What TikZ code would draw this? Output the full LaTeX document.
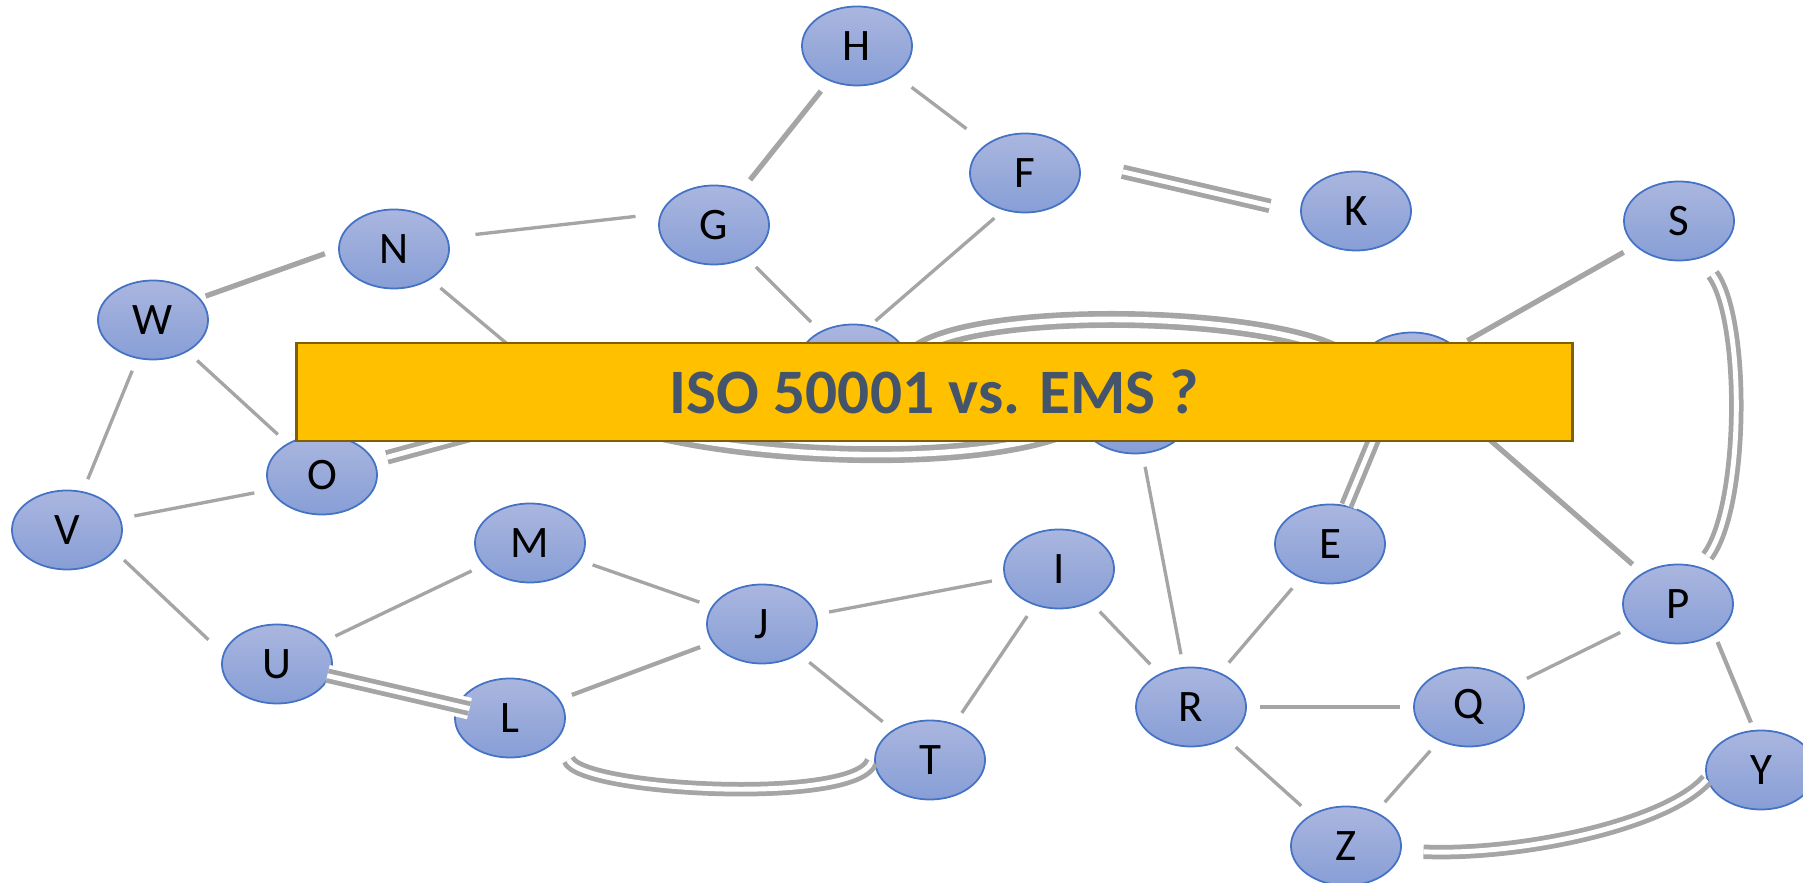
\documentclass[tikz,border=0pt]{standalone}
\usepackage{fontspec}
\setmainfont{Carlito}
\usetikzlibrary{shapes.geometric}
\definecolor{bubtop}{RGB}{170,182,223}
\definecolor{bubbot}{RGB}{135,158,214}
\definecolor{bubline}{RGB}{68,114,196}
\definecolor{lngray}{RGB}{165,165,165}
\definecolor{bangold}{RGB}{255,192,0}
\definecolor{banline}{RGB}{127,96,0}
\definecolor{bantext}{RGB}{68,84,106}
\begin{document}
\begin{tikzpicture}[x=0.01cm, y=-0.01cm,
  bub/.style={ellipse, draw=bubline, line width=0.5pt, top color=bubtop, bottom color=bubbot,
    minimum width=1.1cm, minimum height=0.79cm, inner sep=0pt, font=\fontsize{12.8}{14}\selectfont},
  ln/.style={draw=lngray, line width=0.95pt, shorten <=0.13cm, shorten >=0.13cm},
  lnmid/.style={line width=1.2pt},
  lnthick/.style={line width=1.5pt},
  dbl/.style={draw=lngray, line width=1.35pt, double=white, double distance=1.4pt,
    shorten <=0.13cm, shorten >=0.13cm},
  dblwide/.style={line width=1.6pt, double distance=1.6pt},
  halo/.style={preaction={draw=white, line width=6.2pt}},
  banner/.style={draw=banline, fill=bangold, line width=0.7pt, minimum width=12.75cm,
    minimum height=0.98cm, text=bantext, font=\fontsize{18}{21}\bfseries}]
\path[use as bounding box, clip] (0,0) rectangle (1803,883);
% nodes top
\node[bub] (h) at (857,46) {H};
\node[bub] (f) at (1025,173) {F};
\node[bub] (k) at (1356,211) {K};
\node[bub] (g) at (714,225) {G};
\node[bub] (n) at (394,249) {N};
\node[bub] (w) at (153,320) {W};
\node[bub] (s) at (1679,221) {S};
% nodes under the banner
\node[bub] (x1) at (853,364) {};
\node[bub] (x2) at (1412,372) {};
\node[bub] (x3) at (1135,414) {};
\coordinate (a1) at (580,405);
% nodes bottom
\node[bub] (o) at (322,475) {O};
\node[bub] (v) at (67,530) {V};
\node[bub] (m) at (530,543) {M};
\node[bub] (i) at (1059,569) {I};
\node[bub] (e) at (1330,544) {E};
\node[bub] (j) at (762,624) {J};
\node[bub] (p) at (1678,604) {P};
\node[bub] (u) at (277,664) {U};
\node[bub] (l) at (510,718) {L};
\node[bub] (r) at (1191,707) {R};
\node[bub] (q) at (1469,707) {Q};
\node[bub] (t) at (930,760) {T};
\node[bub] (y) at (1761,770) {Y};
\node[bub] (z) at (1346,846) {Z};
% lines
\draw[ln, lnthick] (h) -- (g);
\draw[ln, shorten <=0.2cm, shorten >=0.25cm] (h) -- (f);
\draw[ln, shorten <=0.28cm, shorten >=0.25cm] (n.12) -- (g.168);
\draw[ln, lnthick, shorten <=0.06cm, shorten >=0.14cm] (w.25) -- (n.west);
\draw[ln] (g) -- (x1);
\draw[ln, shorten <=0.12cm, shorten >=0.07cm] (f.240) -- (x1.66);
\draw[ln] (n) -- (a1);
\draw[ln] (w) -- (o);
\draw[ln] (w) -- (v);
\draw[ln, shorten <=0.14cm, shorten >=0.16cm] (v.12) -- (o.196);
\draw[ln, shorten <=0.13cm, shorten >=0.2cm] (v.-24) -- (u.169);
\draw[ln] (u) -- (m);
\draw[ln] (m) -- (j);
\draw[ln, lnmid] (l) -- (j);
\draw[ln] (j.10) -- (i.190);
\draw[ln] (j) -- (t);
\draw[ln] (i) -- (t);
\draw[ln] (i) -- (r);
\draw[ln] (x3) -- (r);
\draw[ln] (r) -- (e);
\draw[ln] (r) -- (q);
\draw[ln] (r) -- (z);
\draw[ln] (q) -- (z);
\draw[ln] (q) -- (p);
\draw[ln, lnmid, shorten <=0.08cm, shorten >=0.08cm] (p.-40) -- (y.100);
\draw[ln, lnthick] (x2) -- (s);
\draw[ln, lnthick] (x2) -- (p);
% double lines
\draw[dbl, shorten <=0.45cm, shorten >=0.31cm] (f.12) -- (k.182);
\draw[dbl] (o) -- (a1);
\draw[dbl, halo, shorten <=-0.03cm, shorten >=-0.13cm] (u) -- (l);
\draw[dbl, halo, shorten >=0cm] (x2.235) -- (e.67);
\draw[dbl, dblwide, shorten <=0cm, shorten >=0cm] (x1.5) .. controls +(40,-58) and +(-40,-58) .. (x2.175);
\draw[dbl, dblwide, shorten <=0cm] (a1) .. controls +(90,52) and +(-120,50) .. (x3.190);
\draw[dbl, shorten <=0.25cm, shorten >=0.12cm] (l.-20) .. controls +(20,55) and +(-20,55) .. (t.170);
\draw[dbl, shorten <=0.22cm, shorten >=0cm] (z.-5) .. controls +(120,5) and +(-40,45) .. (y.190);
\draw[dbl, shorten <=0.2cm, shorten >=0.13cm] (s.-60) .. controls +(45,60) and +(45,-60) .. (p.60);
% banner
\node[banner] (ban) at (934.5,392) {ISO 50001 vs. EMS ?};
\end{tikzpicture}
\end{document}
